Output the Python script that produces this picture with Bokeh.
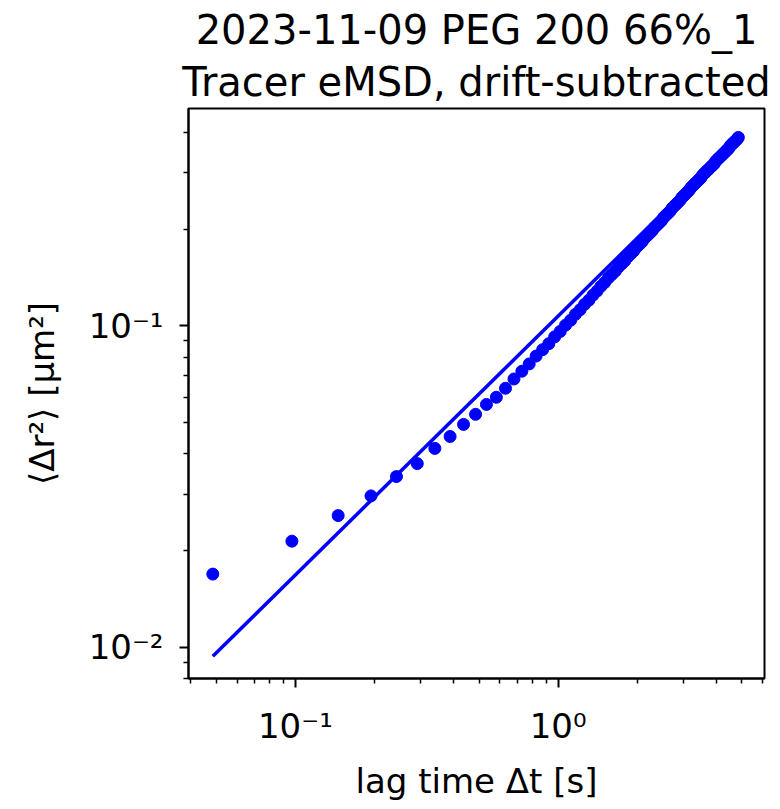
from bokeh.plotting import figure
from bokeh.models import Range1d, FixedTicker, Title
from bokeh.embed import file_html
from bokeh.resources import INLINE

# ---- data ----
lag_time = [0.0485, 0.097, 0.1455, 0.194, 0.2425, 0.291, 0.3395, 0.388, 0.4365, 0.485,
            0.5335, 0.582, 0.6305, 0.679, 0.7275, 0.776, 0.8245, 0.873, 0.9215, 0.97,
            1.0185, 1.067, 1.1155, 1.164, 1.2125, 1.261, 1.3095, 1.358, 1.4065, 1.455,
            1.5035, 1.552, 1.6005, 1.649, 1.6975, 1.746, 1.7945, 1.843, 1.8915, 1.94,
            1.9885, 2.037, 2.0855, 2.134, 2.1825, 2.231, 2.2795, 2.328, 2.3765, 2.425,
            2.4735, 2.522, 2.5705, 2.619, 2.6675, 2.716, 2.7645, 2.813, 2.8615, 2.91,
            2.9585, 3.007, 3.0555, 3.104, 3.1525, 3.201, 3.2495, 3.298, 3.3465, 3.395,
            3.4435, 3.492, 3.5405, 3.589, 3.6375, 3.686, 3.7345, 3.783, 3.8315, 3.88,
            3.9285, 3.977, 4.0255, 4.074, 4.1225, 4.171, 4.2195, 4.268, 4.3165, 4.365,
            4.4135, 4.462, 4.5105, 4.559, 4.6075, 4.656, 4.7045, 4.753, 4.8015, 4.85]

emsd = [0.0169, 0.0214, 0.0257, 0.0296, 0.0340, 0.0373, 0.0416, 0.0453, 0.0494, 0.0531,
        0.0570, 0.0600, 0.0640, 0.0684, 0.0723, 0.0762, 0.0806, 0.0844, 0.0881, 0.0925,
        0.0962, 0.1006, 0.1042, 0.1087, 0.1123, 0.1168, 0.1203, 0.1248, 0.1284, 0.1329,
        0.1365, 0.1410, 0.1445, 0.1481, 0.1526, 0.1561, 0.1596, 0.1642, 0.1677, 0.1712,
        0.1759, 0.1793, 0.1827, 0.1875, 0.1909, 0.1943, 0.1977, 0.2025, 0.2059, 0.2093,
        0.2127, 0.2176, 0.2210, 0.2243, 0.2277, 0.2327, 0.2360, 0.2393, 0.2427, 0.2460,
        0.2511, 0.2544, 0.2576, 0.2610, 0.2642, 0.2694, 0.2727, 0.2760, 0.2792, 0.2825,
        0.2857, 0.2889, 0.2943, 0.2975, 0.3008, 0.3040, 0.3072, 0.3104, 0.3136, 0.3168,
        0.3199, 0.3255, 0.3287, 0.3319, 0.3350, 0.3382, 0.3413, 0.3445, 0.3477, 0.3508,
        0.3539, 0.3571, 0.3629, 0.3660, 0.3692, 0.3723, 0.3754, 0.3785, 0.3816, 0.3860]

# power-law fit drawn as a straight line on log-log axes (end points)
fit_time = [0.0485, 4.85]
fit_msd = [0.00938, 0.383]

x_major = [0.1, 1.0]
x_major_labels = ["10⁻¹", "10⁰"]
x_minor = [0.04, 0.05, 0.06, 0.07, 0.08, 0.09, 0.2, 0.3, 0.4, 0.5, 0.6, 0.7, 0.8, 0.9,
           2.0, 3.0, 4.0, 5.0, 6.0]
y_major = [0.01, 0.1]
y_major_labels = ["10⁻²", "10⁻¹"]
y_minor = [0.008, 0.009, 0.02, 0.03, 0.04, 0.05, 0.06, 0.07, 0.08, 0.09, 0.2, 0.3, 0.4]

title_line1 = "2023-11-09 PEG 200 66%_1"
title_line2 = "Tracer eMSD, drift-subtracted"
x_label = "lag time Δt [s]"
y_label = "⟨Δr²⟩ [μm²]"

FONT = "DejaVu Sans"

p = figure(x_axis_type="log", y_axis_type="log",
           x_range=Range1d(0.0392, 6.1), y_range=Range1d(0.0080, 0.475),
           frame_width=576, frame_height=570,
           min_border_left=188, min_border_right=16, min_border_top=108, min_border_bottom=125,
           output_backend="svg", toolbar_location=None, title=None)

p.background_fill_color = "white"
p.border_fill_color = "white"
p.outline_line_color = "black"
p.outline_line_width = 2
p.grid.visible = False

# titles (inner line added first)
p.add_layout(Title(text=title_line2, align="center", text_font=FONT, text_font_size="40px",
                   text_font_style="normal", text_color="black", standoff=8,
                   text_line_height=0.9), "above")
p.add_layout(Title(text=title_line1, align="center", text_font=FONT, text_font_size="40px",
                   text_font_style="normal", text_color="black", standoff=0,
                   text_line_height=0.9), "above")

p.xaxis.ticker = FixedTicker(ticks=x_major, minor_ticks=x_minor)
p.yaxis.ticker = FixedTicker(ticks=y_major, minor_ticks=y_minor)
p.xaxis.major_label_overrides = dict(zip(x_major, x_major_labels))
p.yaxis.major_label_overrides = dict(zip(y_major, y_major_labels))

for ax in (p.xaxis, p.yaxis):
    ax.axis_line_color = "black"
    ax.axis_line_width = 2
    ax.major_tick_line_color = "black"
    ax.major_tick_line_width = 2
    ax.minor_tick_line_color = "black"
    ax.minor_tick_line_width = 1.5
    ax.major_tick_in = 0
    ax.major_tick_out = 9
    ax.minor_tick_in = 0
    ax.minor_tick_out = 5
    ax.major_label_text_font = FONT
    ax.major_label_text_font_size = "34px"
    ax.major_label_text_color = "black"
    ax.axis_label_text_font = FONT
    ax.axis_label_text_font_size = "34px"
    ax.axis_label_text_font_style = "normal"
    ax.axis_label_text_color = "black"

p.xaxis.axis_label = x_label
p.yaxis.axis_label = y_label
p.xaxis.major_label_standoff = 18
p.yaxis.major_label_standoff = 16
p.xaxis.axis_label_standoff = 12
p.yaxis.axis_label_standoff = 24

p.line(fit_time, fit_msd, line_color="#0000ff", line_width=3.5)
p.scatter(lag_time, emsd, size=12, fill_color="#0000ff", line_color="#0000ff")

open("out.html", "w").write(file_html(p, INLINE))
